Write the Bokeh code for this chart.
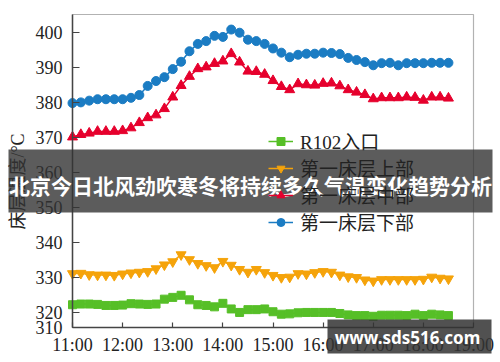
import math
from bokeh.plotting import figure
from bokeh.models import (Range1d, FixedTicker, Legend, LegendItem, BoxAnnotation, Label,
                          LinearAxis)
from bokeh.embed import file_html
from bokeh.resources import INLINE

# sampling every 10 minutes from 11:00 to 18:30
minutes = list(range(0, 460, 10))
hours = [11 + m / 60 for m in minutes]

series_names = ["R102入口", "第一床层上部", "第一床层中部", "第一床层下部"]

r102_inlet = [322.1, 322.3, 322.3, 322.2, 321.9, 321.9, 322.0, 322.4, 322.3, 322.2,
              322.3, 323.7, 324.2, 324.8, 323.5, 322.1, 321.9, 321.5, 322.5, 320.9,
              319.9, 320.7, 320.7, 320.9, 320.1, 319.4, 319.5, 319.8, 319.9, 319.9,
              319.9, 319.9, 319.6, 319.2, 319.0, 319.0, 318.8, 319.1, 319.1, 319.1,
              319.0, 319.4, 319.0, 319.4, 319.2, 319.0]
bed1_upper = [331.0, 331.1, 330.7, 330.6, 330.6, 330.5, 330.9, 331.2, 331.4, 331.6,
              332.4, 333.5, 334.4, 336.4, 335.0, 333.9, 333.3, 332.7, 334.5, 333.4,
              332.2, 331.4, 332.2, 331.3, 330.5, 329.9, 330.0, 331.0, 330.9, 331.3,
              331.6, 331.4, 330.6, 330.1, 329.9, 329.2, 328.9, 329.3, 329.3, 329.3,
              329.3, 329.3, 329.4, 330.0, 329.7, 329.5]
bed1_middle = [370.0, 370.7, 371.1, 371.6, 371.6, 371.6, 371.8, 372.6, 374.1, 375.5,
               376.3, 378.1, 381.4, 384.7, 387.3, 389.5, 390.0, 391.0, 391.7, 393.8,
               391.4, 388.8, 388.7, 387.9, 386.1, 384.4, 383.5, 385.2, 384.9, 384.8,
               385.3, 385.4, 384.6, 383.5, 382.8, 382.1, 380.9, 381.2, 381.2, 381.2,
               381.4, 381.3, 380.5, 381.4, 381.4, 381.1]
bed1_lower = [379.7, 379.9, 380.4, 380.8, 380.8, 380.8, 380.8, 381.2, 382.0, 384.6,
              386.0, 387.1, 389.4, 391.5, 394.5, 396.6, 397.4, 398.9, 398.6, 400.7,
              399.8, 397.8, 397.4, 396.6, 395.3, 394.1, 392.8, 393.5, 393.8, 393.8,
              394.1, 394.0, 393.7, 392.6, 392.0, 391.4, 390.5, 391.1, 391.2, 390.5,
              391.1, 391.1, 391.1, 391.2, 391.2, 391.2]

x_tick_values = [11, 12, 13, 14, 15, 16, 17, 18, 19]
x_tick_labels = ["11:00", "12:00", "13:00", "14:00", "15:00", "16:00", "17:00", "18:00", "19:00"]
y_tick_values = [315.6, 320, 330, 340, 350, 360, 370, 380, 390, 400]
y_tick_labels = ["310", "320", "330", "340", "350", "360", "370", "380", "390", "400"]

y_label = "床层温度/°C"
banner_text = "北京今日北风劲吹寒冬将持续多久气温变化趋势分析"
watermark_text = "www.sds516.com"

colors = ["#56bf27", "#f5a30a", "#e6002d", "#1b7cc3"]
markers = ["square", "inverted_triangle", "triangle", "circle"]
sizes = [8, 10, 10, 9]

SERIF = "Liberation Serif, Noto Sans CJK SC"

# axes box (data) and the canvas around it
X0, X1 = 11, 19
Y0, Y1 = 315.6, 405
W, H = 500, 362
px_per_h = 401 / (X1 - X0)
px_per_deg = 313 / (Y1 - Y0)
x_range = Range1d(X0 - 72 / px_per_h, X1 + 27 / px_per_h)
y_range = Range1d(Y0 - 35 / px_per_deg, Y1 + 14 / px_per_deg)

p = figure(width=W, height=H, output_backend="svg", toolbar_location=None,
           x_range=x_range, y_range=y_range,
           x_axis_location=None, y_axis_location=None,
           min_border=0, min_border_left=0, min_border_right=0,
           min_border_top=0, min_border_bottom=0)
p.background_fill_color = "white"
p.border_fill_color = "white"
p.outline_line_color = None
p.xgrid.visible = False
p.ygrid.visible = False

xaxis = LinearAxis(fixed_location=Y0, bounds=(X0, X1), ticker=FixedTicker(ticks=x_tick_values),
                   major_label_overrides={v: l for v, l in zip(x_tick_values, x_tick_labels)})
yaxis = LinearAxis(fixed_location=X0, bounds=(Y0, Y1), ticker=FixedTicker(ticks=y_tick_values),
                   major_label_overrides={v: l for v, l in zip(y_tick_values, y_tick_labels)})
for ax in (xaxis, yaxis):
    ax.major_label_text_font = SERIF
    ax.major_label_text_font_size = "18px"
    ax.major_label_text_color = "#222222"
    ax.axis_line_color = "#444444"
    ax.axis_line_width = 1.5
    ax.major_tick_line_color = "#444444"
    ax.major_tick_line_width = 1.2
    ax.major_tick_out = 0
    ax.minor_tick_line_color = None
xaxis.major_tick_in = 5
yaxis.major_tick_in = 7
xaxis.major_label_standoff = 7
yaxis.major_label_standoff = 10
p.add_layout(xaxis, "below")
p.add_layout(yaxis, "left")

# y axis title, placed beside the axis
p.add_layout(Label(x=17, y=181, x_units="canvas", y_units="canvas", text=y_label,
                   angle=math.pi / 2, text_font=SERIF, text_font_size="18px",
                   text_color="#222222", text_align="center", text_baseline="middle"))

# frame box around the axes area
p.add_layout(BoxAnnotation(left=X0, right=X1, bottom=Y0, top=Y1, fill_alpha=0,
                           line_color="black", line_width=1.2, level="underlay"))

items = []
for name, vals, c, m, s in zip(series_names, [r102_inlet, bed1_upper, bed1_middle, bed1_lower],
                               colors, markers, sizes):
    lr = p.line(hours, vals, line_color=c, line_width=1.5)
    sr = p.scatter(hours, vals, marker=m, size=s, fill_color=c, line_color=c)
    items.append(LegendItem(label=name, renderers=[lr, sr]))

legend = Legend(items=items, location=(268, 127))
legend.label_text_font = SERIF
legend.label_text_font_size = "19px"
legend.label_text_color = "#222222"
legend.glyph_width = 25
legend.glyph_height = 20
legend.label_height = 20
legend.label_standoff = 7
legend.spacing = -4
legend.padding = 0
legend.margin = 0
legend.border_line_alpha = 0
legend.background_fill_alpha = 0
p.add_layout(legend)

banner = BoxAnnotation(left=8, right=492, top=149, bottom=212,
                       left_units="canvas", right_units="canvas",
                       top_units="canvas", bottom_units="canvas",
                       fill_color="#333333", fill_alpha=0.8, line_alpha=0, level="overlay")
p.add_layout(banner)
p.add_layout(Label(x=250, y=184, x_units="canvas", y_units="canvas", text=banner_text,
                   text_font="Noto Sans CJK SC", text_font_style="bold", text_font_size="21px",
                   text_color="white", text_align="center", text_baseline="middle", level="overlay"))

wm = BoxAnnotation(left=327, right=491, top=319, bottom=353,
                   left_units="canvas", right_units="canvas",
                   top_units="canvas", bottom_units="canvas",
                   fill_color="#333333", fill_alpha=0.85, line_alpha=0, level="overlay")
p.add_layout(wm)
p.add_layout(Label(x=407, y=337, x_units="canvas", y_units="canvas", text=watermark_text,
                   text_font="Noto Sans", text_font_style="bold", text_font_size="17px",
                   text_color="white", text_align="center", text_baseline="middle", level="overlay"))

open("out.html", "w").write(file_html(p, INLINE))
